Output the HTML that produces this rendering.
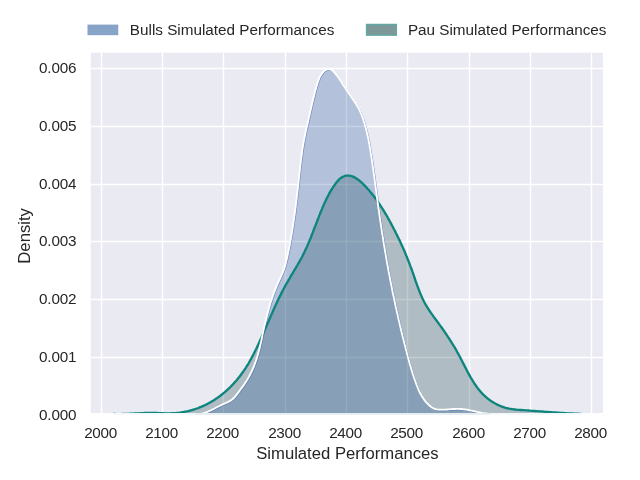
<!DOCTYPE html>
<html><head><meta charset="utf-8"><title>Simulated Performances</title>
<style>
html,body{margin:0;padding:0;background:#fff;}
svg{display:block}
text{font-family:"Liberation Sans",sans-serif;fill:#262626;}
.tick text{font-size:15.28px}
.lab{font-size:16.67px}
.leg{font-size:15.28px}
</style></head><body>
<svg width="640" height="480" viewBox="0 0 640 480">
<rect width="640" height="480" fill="#fff"/>
<rect x="90.8" y="52.8" width="512.2" height="360.2" fill="#eaeaf2"/>
<clipPath id="c"><rect x="90.8" y="52.8" width="512.2" height="360.2"/></clipPath>
<g stroke="#fff" stroke-width="1.39" stroke-linecap="butt"><line x1="101.50" y1="52.8" x2="101.50" y2="413.0"/><line x1="162.50" y1="52.8" x2="162.50" y2="413.0"/><line x1="223.50" y1="52.8" x2="223.50" y2="413.0"/><line x1="285.50" y1="52.8" x2="285.50" y2="413.0"/><line x1="346.50" y1="52.8" x2="346.50" y2="413.0"/><line x1="407.50" y1="52.8" x2="407.50" y2="413.0"/><line x1="469.50" y1="52.8" x2="469.50" y2="413.0"/><line x1="530.50" y1="52.8" x2="530.50" y2="413.0"/><line x1="591.50" y1="52.8" x2="591.50" y2="413.0"/><line x1="90.8" y1="357.50" x2="603.0" y2="357.50"/><line x1="90.8" y1="299.50" x2="603.0" y2="299.50"/><line x1="90.8" y1="241.50" x2="603.0" y2="241.50"/><line x1="90.8" y1="184.50" x2="603.0" y2="184.50"/><line x1="90.8" y1="126.50" x2="603.0" y2="126.50"/><line x1="90.8" y1="68.50" x2="603.0" y2="68.50"/></g>
<g>
<g clip-path="url(#c)">
<path d="M113.4,414.0 L114.9,414.0 L116.4,414.1 L117.9,414.1 L119.4,414.1 L120.9,414.1 L122.4,414.0 L123.9,414.0 L125.4,413.9 L126.9,413.9 L128.4,413.8 L129.9,413.7 L131.4,413.7 L132.9,413.6 L134.4,413.5 L135.9,413.4 L137.4,413.3 L138.9,413.3 L140.4,413.2 L141.9,413.1 L143.4,413.1 L144.9,413.0 L146.4,413.0 L147.9,412.9 L149.4,412.9 L150.9,412.9 L152.4,412.9 L153.9,413.0 L155.4,413.0 L156.9,413.0 L158.4,413.1 L159.9,413.1 L161.4,413.2 L162.9,413.2 L164.4,413.3 L165.9,413.3 L167.4,413.3 L168.9,413.3 L170.4,413.3 L171.9,413.2 L173.4,413.2 L174.9,413.1 L176.4,413.0 L177.9,412.8 L179.4,412.7 L180.9,412.5 L182.4,412.2 L183.8,412.0 L185.3,411.7 L186.8,411.4 L188.2,411.1 L189.7,410.7 L191.1,410.3 L192.6,409.9 L194.0,409.5 L195.4,409.0 L196.9,408.5 L198.3,408.0 L199.7,407.4 L201.1,406.9 L202.4,406.3 L203.8,405.7 L205.2,405.0 L206.5,404.4 L207.8,403.7 L209.1,403.0 L210.4,402.3 L211.7,401.5 L213.0,400.7 L214.3,399.9 L215.5,399.1 L216.8,398.3 L218.0,397.4 L219.2,396.6 L220.4,395.7 L221.6,394.7 L222.8,393.8 L223.9,392.9 L225.1,391.9 L226.2,390.9 L227.3,389.9 L228.4,388.9 L229.5,387.8 L230.6,386.8 L231.6,385.7 L232.7,384.6 L233.7,383.5 L234.7,382.4 L235.7,381.3 L236.7,380.2 L237.6,379.0 L238.6,377.8 L239.5,376.7 L240.4,375.5 L241.3,374.3 L242.2,373.0 L243.1,371.8 L243.9,370.6 L244.8,369.3 L245.6,368.1 L246.4,366.8 L247.2,365.5 L248.0,364.3 L248.8,363.0 L249.5,361.7 L250.2,360.4 L251.0,359.0 L251.7,357.7 L252.4,356.4 L253.1,355.1 L253.8,353.7 L254.5,352.4 L255.1,351.0 L255.8,349.7 L256.5,348.3 L257.1,347.0 L257.8,345.6 L258.4,344.2 L259.0,342.9 L259.6,341.5 L260.3,340.1 L260.9,338.7 L261.5,337.4 L262.1,336.0 L262.7,334.6 L263.3,333.2 L263.9,331.9 L264.5,330.5 L265.1,329.1 L265.7,327.7 L266.3,326.3 L266.9,325.0 L267.5,323.6 L268.1,322.2 L268.7,320.9 L269.3,319.5 L269.9,318.1 L270.5,316.7 L271.1,315.4 L271.7,314.0 L272.3,312.7 L272.9,311.3 L273.5,309.9 L274.1,308.6 L274.7,307.2 L275.3,305.9 L275.9,304.5 L276.6,303.2 L277.2,301.8 L277.8,300.5 L278.5,299.1 L279.1,297.8 L279.8,296.4 L280.5,295.1 L281.1,293.8 L281.8,292.4 L282.5,291.1 L283.2,289.8 L283.9,288.5 L284.6,287.1 L285.3,285.8 L286.0,284.5 L286.8,283.2 L287.5,281.9 L288.3,280.6 L289.0,279.3 L289.8,278.0 L290.5,276.7 L291.3,275.4 L292.1,274.1 L292.9,272.8 L293.6,271.5 L294.4,270.2 L295.2,268.9 L296.0,267.6 L296.7,266.3 L297.5,265.0 L298.2,263.7 L299.0,262.4 L299.7,261.1 L300.4,259.8 L301.2,258.5 L301.9,257.2 L302.6,255.8 L303.2,254.5 L303.9,253.1 L304.6,251.8 L305.2,250.4 L305.8,249.1 L306.5,247.7 L307.1,246.4 L307.7,245.0 L308.3,243.6 L308.8,242.2 L309.4,240.9 L310.0,239.5 L310.6,238.1 L311.1,236.7 L311.7,235.3 L312.2,233.9 L312.8,232.5 L313.3,231.1 L313.8,229.7 L314.4,228.3 L314.9,226.9 L315.5,225.5 L316.0,224.1 L316.5,222.8 L317.1,221.4 L317.6,220.0 L318.1,218.6 L318.7,217.2 L319.2,215.8 L319.8,214.4 L320.3,213.0 L320.9,211.6 L321.5,210.2 L322.1,208.9 L322.6,207.5 L323.2,206.1 L323.8,204.7 L324.4,203.4 L325.0,202.0 L325.7,200.7 L326.3,199.3 L327.0,197.9 L327.7,196.6 L328.4,195.3 L329.1,193.9 L329.8,192.6 L330.6,191.2 L331.4,189.9 L332.2,188.6 L333.1,187.2 L334.0,185.9 L334.9,184.6 L335.8,183.3 L336.8,182.0 L337.8,180.9 L338.9,179.7 L340.0,178.7 L341.1,177.8 L342.3,177.1 L343.5,176.5 L344.8,176.0 L346.1,175.7 L347.5,175.6 L348.8,175.7 L350.2,175.9 L351.6,176.2 L352.9,176.7 L354.2,177.2 L355.5,177.9 L356.7,178.7 L357.9,179.5 L359.1,180.4 L360.3,181.4 L361.4,182.4 L362.5,183.4 L363.6,184.5 L364.7,185.6 L365.8,186.7 L366.8,187.9 L367.8,189.0 L368.9,190.1 L369.8,191.3 L370.8,192.5 L371.8,193.6 L372.7,194.8 L373.7,196.0 L374.6,197.2 L375.5,198.4 L376.4,199.6 L377.2,200.8 L378.1,202.1 L378.9,203.3 L379.8,204.6 L380.6,205.8 L381.4,207.1 L382.2,208.3 L383.0,209.6 L383.8,210.9 L384.6,212.2 L385.3,213.5 L386.1,214.7 L386.9,216.0 L387.6,217.3 L388.3,218.6 L389.1,219.9 L389.8,221.3 L390.5,222.6 L391.2,223.9 L391.9,225.2 L392.6,226.5 L393.3,227.9 L394.0,229.2 L394.7,230.5 L395.4,231.9 L396.0,233.2 L396.7,234.5 L397.4,235.9 L398.0,237.2 L398.7,238.6 L399.3,239.9 L400.0,241.3 L400.6,242.6 L401.2,244.0 L401.9,245.4 L402.5,246.7 L403.1,248.1 L403.7,249.5 L404.3,250.8 L404.9,252.2 L405.5,253.6 L406.0,255.0 L406.6,256.4 L407.2,257.8 L407.7,259.2 L408.3,260.5 L408.8,261.9 L409.4,263.4 L409.9,264.8 L410.4,266.2 L411.0,267.6 L411.5,269.0 L412.0,270.4 L412.5,271.8 L413.0,273.2 L413.5,274.7 L414.0,276.1 L414.4,277.5 L414.9,278.9 L415.4,280.4 L415.9,281.8 L416.4,283.2 L416.9,284.6 L417.4,286.0 L418.0,287.4 L418.5,288.8 L419.0,290.2 L419.6,291.6 L420.1,293.0 L420.7,294.4 L421.3,295.8 L421.9,297.1 L422.5,298.5 L423.2,299.8 L423.8,301.2 L424.5,302.5 L425.2,303.8 L426.0,305.1 L426.7,306.4 L427.5,307.7 L428.3,309.0 L429.1,310.2 L430.0,311.5 L430.8,312.7 L431.7,313.9 L432.6,315.2 L433.4,316.4 L434.3,317.6 L435.2,318.8 L436.1,320.0 L437.0,321.2 L437.9,322.4 L438.8,323.7 L439.7,324.9 L440.6,326.1 L441.4,327.3 L442.3,328.5 L443.1,329.7 L444.0,330.9 L444.8,332.2 L445.7,333.4 L446.5,334.6 L447.3,335.8 L448.1,337.1 L449.0,338.3 L449.8,339.6 L450.6,340.8 L451.4,342.1 L452.1,343.3 L452.9,344.6 L453.7,345.9 L454.5,347.1 L455.2,348.4 L456.0,349.7 L456.7,351.0 L457.4,352.3 L458.2,353.6 L458.9,355.0 L459.6,356.3 L460.3,357.6 L461.0,359.0 L461.7,360.3 L462.4,361.7 L463.1,363.1 L463.8,364.4 L464.5,365.8 L465.2,367.1 L465.9,368.5 L466.6,369.9 L467.3,371.2 L468.0,372.6 L468.7,373.9 L469.4,375.2 L470.2,376.6 L470.9,377.9 L471.7,379.2 L472.5,380.5 L473.3,381.7 L474.1,383.0 L474.9,384.3 L475.8,385.5 L476.6,386.7 L477.5,387.9 L478.4,389.1 L479.4,390.2 L480.3,391.4 L481.3,392.5 L482.3,393.6 L483.3,394.6 L484.4,395.6 L485.5,396.6 L486.6,397.6 L487.8,398.6 L489.0,399.5 L490.2,400.4 L491.4,401.2 L492.7,402.0 L493.9,402.8 L495.2,403.5 L496.6,404.2 L497.9,404.9 L499.3,405.5 L500.6,406.1 L502.0,406.6 L503.4,407.1 L504.9,407.6 L506.3,408.0 L507.7,408.3 L509.2,408.7 L510.6,408.9 L512.1,409.1 L513.6,409.3 L515.1,409.5 L516.5,409.7 L518.0,409.8 L519.5,409.9 L521.0,410.0 L522.5,410.1 L524.1,410.2 L525.6,410.3 L527.1,410.4 L528.6,410.5 L530.1,410.7 L531.6,410.8 L533.2,410.9 L534.7,411.0 L536.2,411.1 L537.7,411.2 L539.2,411.3 L540.7,411.4 L542.2,411.5 L543.7,411.6 L545.2,411.8 L546.7,411.9 L548.2,412.0 L549.7,412.1 L551.2,412.2 L552.6,412.3 L554.1,412.4 L555.6,412.5 L557.1,412.6 L558.6,412.7 L560.0,412.8 L561.5,412.9 L563.0,413.0 L564.5,413.1 L566.0,413.2 L567.5,413.3 L569.0,413.3 L570.5,413.4 L572.0,413.5 L573.5,413.6 L575.0,413.6 L576.5,413.7 L578.0,413.7 L579.5,413.8 L581.0,413.9 L581.6,413.9 L581.6,413.7 L113.4,413.7 Z" fill="#023236" fill-opacity="0.25"/>
<path d="M193.0,414.9 L194.6,415.2 L196.1,415.3 L197.6,415.3 L199.1,415.2 L200.6,415.1 L202.1,414.8 L203.5,414.5 L204.9,414.1 L206.3,413.6 L207.7,413.1 L209.1,412.5 L210.5,411.9 L211.8,411.3 L213.2,410.6 L214.5,410.0 L215.9,409.3 L217.2,408.5 L218.6,407.8 L219.9,407.2 L221.3,406.5 L222.6,405.8 L224.0,405.2 L225.3,404.6 L226.7,404.0 L228.0,403.4 L229.4,402.8 L230.7,402.1 L231.9,401.4 L233.1,400.5 L234.2,399.5 L235.2,398.5 L236.2,397.3 L237.2,396.1 L238.2,394.9 L239.1,393.7 L240.0,392.5 L240.9,391.2 L241.8,390.0 L242.7,388.8 L243.6,387.6 L244.4,386.4 L245.3,385.2 L246.1,383.9 L246.9,382.7 L247.7,381.4 L248.5,380.2 L249.2,378.9 L250.0,377.6 L250.7,376.3 L251.3,375.0 L252.0,373.6 L252.7,372.3 L253.3,370.9 L253.9,369.5 L254.5,368.2 L255.1,366.8 L255.6,365.4 L256.1,364.0 L256.6,362.5 L257.1,361.1 L257.6,359.7 L258.1,358.2 L258.5,356.8 L258.9,355.3 L259.3,353.9 L259.7,352.4 L260.1,351.0 L260.5,349.5 L260.8,348.0 L261.2,346.6 L261.5,345.1 L261.8,343.6 L262.2,342.2 L262.5,340.7 L262.8,339.2 L263.1,337.7 L263.4,336.3 L263.7,334.8 L264.0,333.4 L264.4,331.9 L264.7,330.4 L265.0,329.0 L265.3,327.5 L265.6,326.1 L266.0,324.7 L266.3,323.2 L266.6,321.8 L267.0,320.3 L267.3,318.9 L267.7,317.5 L268.0,316.0 L268.4,314.6 L268.8,313.2 L269.2,311.8 L269.5,310.3 L269.9,308.9 L270.3,307.5 L270.8,306.1 L271.2,304.6 L271.6,303.2 L272.1,301.8 L272.5,300.4 L273.0,299.0 L273.5,297.6 L274.0,296.1 L274.5,294.7 L275.0,293.3 L275.6,291.9 L276.1,290.5 L276.7,289.1 L277.3,287.7 L277.9,286.2 L278.5,284.8 L279.1,283.4 L279.8,282.0 L280.4,280.6 L281.1,279.2 L281.7,277.7 L282.3,276.3 L283.0,274.9 L283.6,273.5 L284.1,272.1 L284.7,270.6 L285.2,269.2 L285.6,267.8 L286.1,266.4 L286.5,264.9 L286.8,263.5 L287.2,262.1 L287.5,260.6 L287.9,259.2 L288.2,257.8 L288.5,256.3 L288.8,254.9 L289.1,253.4 L289.4,252.0 L289.7,250.5 L290.0,249.1 L290.3,247.6 L290.6,246.2 L290.8,244.7 L291.1,243.2 L291.4,241.8 L291.6,240.3 L291.9,238.9 L292.2,237.4 L292.4,235.9 L292.7,234.4 L292.9,233.0 L293.1,231.5 L293.4,230.0 L293.6,228.6 L293.8,227.1 L294.1,225.6 L294.3,224.1 L294.5,222.6 L294.7,221.2 L294.9,219.7 L295.2,218.2 L295.4,216.7 L295.6,215.2 L295.8,213.7 L296.0,212.2 L296.2,210.7 L296.4,209.3 L296.6,207.8 L296.7,206.3 L296.9,204.8 L297.1,203.3 L297.3,201.8 L297.5,200.3 L297.7,198.8 L297.8,197.3 L298.0,195.8 L298.2,194.3 L298.4,192.8 L298.5,191.3 L298.7,189.8 L298.9,188.3 L299.1,186.8 L299.2,185.3 L299.4,183.8 L299.5,182.4 L299.7,180.9 L299.9,179.4 L300.0,177.9 L300.2,176.4 L300.4,174.9 L300.5,173.4 L300.7,171.9 L300.9,170.4 L301.0,168.9 L301.2,167.4 L301.4,165.9 L301.5,164.4 L301.7,162.9 L301.9,161.4 L302.1,159.9 L302.3,158.5 L302.5,157.0 L302.7,155.5 L302.9,154.0 L303.1,152.5 L303.3,151.0 L303.5,149.5 L303.7,148.1 L304.0,146.6 L304.2,145.1 L304.5,143.6 L304.7,142.1 L305.0,140.7 L305.3,139.2 L305.6,137.7 L305.9,136.2 L306.2,134.8 L306.5,133.3 L306.8,131.8 L307.1,130.4 L307.5,128.9 L307.8,127.5 L308.1,126.0 L308.5,124.5 L308.8,123.1 L309.1,121.6 L309.5,120.2 L309.8,118.7 L310.1,117.3 L310.5,115.8 L310.8,114.4 L311.1,112.9 L311.4,111.5 L311.8,110.0 L312.1,108.6 L312.4,107.2 L312.8,105.7 L313.1,104.3 L313.4,102.8 L313.8,101.4 L314.1,99.9 L314.5,98.5 L314.9,97.0 L315.2,95.5 L315.6,94.1 L316.0,92.6 L316.4,91.1 L316.8,89.7 L317.2,88.2 L317.6,86.7 L318.1,85.2 L318.5,83.7 L319.0,82.2 L319.6,80.8 L320.1,79.4 L320.7,78.0 L321.4,76.6 L322.2,75.4 L323.0,74.2 L324.0,73.1 L325.0,72.0 L326.1,71.1 L327.3,70.4 L328.6,70.0 L329.9,70.0 L331.2,70.3 L332.5,70.9 L333.7,71.7 L334.9,72.8 L336.0,74.1 L337.0,75.4 L338.0,76.7 L339.0,78.0 L339.9,79.3 L340.7,80.6 L341.6,81.8 L342.4,83.0 L343.2,84.3 L343.9,85.5 L344.7,86.7 L345.5,87.8 L346.2,89.0 L347.0,90.2 L347.8,91.4 L348.7,92.6 L349.5,93.9 L350.4,95.1 L351.2,96.4 L352.1,97.6 L353.0,98.9 L353.9,100.2 L354.7,101.4 L355.6,102.7 L356.4,104.0 L357.3,105.4 L358.1,106.7 L358.8,108.0 L359.6,109.3 L360.3,110.7 L360.9,112.0 L361.5,113.4 L362.1,114.8 L362.7,116.1 L363.2,117.5 L363.7,118.9 L364.2,120.3 L364.6,121.7 L365.1,123.1 L365.5,124.5 L365.9,126.0 L366.3,127.4 L366.7,128.8 L367.1,130.2 L367.4,131.7 L367.8,133.1 L368.1,134.6 L368.4,136.0 L368.8,137.5 L369.1,138.9 L369.4,140.4 L369.7,141.9 L369.9,143.3 L370.2,144.8 L370.5,146.3 L370.7,147.8 L371.0,149.3 L371.3,150.7 L371.5,152.2 L371.7,153.7 L372.0,155.2 L372.2,156.7 L372.4,158.2 L372.7,159.7 L372.9,161.2 L373.1,162.6 L373.3,164.1 L373.5,165.6 L373.7,167.1 L374.0,168.6 L374.2,170.1 L374.4,171.6 L374.6,173.1 L374.8,174.6 L375.0,176.1 L375.2,177.6 L375.4,179.1 L375.6,180.5 L375.8,182.0 L376.0,183.5 L376.2,185.0 L376.4,186.5 L376.6,188.0 L376.8,189.5 L377.0,191.0 L377.2,192.5 L377.4,193.9 L377.6,195.4 L377.8,196.9 L378.0,198.4 L378.2,199.9 L378.4,201.4 L378.6,202.9 L378.8,204.4 L379.0,205.8 L379.2,207.3 L379.4,208.8 L379.6,210.3 L379.9,211.8 L380.1,213.3 L380.3,214.8 L380.5,216.2 L380.7,217.7 L380.9,219.2 L381.1,220.7 L381.3,222.2 L381.6,223.7 L381.8,225.1 L382.0,226.6 L382.2,228.1 L382.5,229.6 L382.7,231.1 L382.9,232.6 L383.1,234.0 L383.4,235.5 L383.6,237.0 L383.8,238.5 L384.1,240.0 L384.3,241.4 L384.5,242.9 L384.8,244.4 L385.0,245.9 L385.3,247.4 L385.5,248.8 L385.8,250.3 L386.0,251.8 L386.3,253.3 L386.5,254.7 L386.8,256.2 L387.0,257.7 L387.3,259.2 L387.5,260.6 L387.8,262.1 L388.0,263.6 L388.3,265.1 L388.6,266.5 L388.8,268.0 L389.1,269.5 L389.4,271.0 L389.6,272.4 L389.9,273.9 L390.2,275.4 L390.5,276.9 L390.8,278.3 L391.0,279.8 L391.3,281.3 L391.6,282.7 L391.9,284.2 L392.2,285.7 L392.5,287.1 L392.8,288.6 L393.1,290.1 L393.3,291.5 L393.6,293.0 L393.9,294.5 L394.2,295.9 L394.6,297.4 L394.9,298.9 L395.2,300.3 L395.5,301.8 L395.8,303.3 L396.1,304.7 L396.4,306.2 L396.7,307.7 L397.1,309.1 L397.4,310.6 L397.7,312.0 L398.0,313.5 L398.4,315.0 L398.7,316.4 L399.0,317.9 L399.3,319.4 L399.7,320.8 L400.0,322.3 L400.4,323.7 L400.7,325.2 L401.0,326.7 L401.4,328.1 L401.7,329.6 L402.1,331.0 L402.4,332.5 L402.8,334.0 L403.2,335.4 L403.5,336.9 L403.9,338.4 L404.2,339.8 L404.6,341.3 L405.0,342.7 L405.3,344.2 L405.7,345.7 L406.1,347.1 L406.5,348.6 L406.8,350.0 L407.2,351.5 L407.6,353.0 L408.0,354.4 L408.4,355.9 L408.7,357.4 L409.1,358.8 L409.5,360.3 L409.9,361.7 L410.3,363.2 L410.7,364.7 L411.1,366.1 L411.6,367.6 L412.0,369.0 L412.4,370.5 L412.8,371.9 L413.3,373.3 L413.7,374.8 L414.2,376.2 L414.7,377.6 L415.1,379.0 L415.6,380.4 L416.1,381.8 L416.6,383.2 L417.1,384.6 L417.6,386.0 L418.1,387.3 L418.7,388.7 L419.2,390.0 L419.8,391.4 L420.4,392.7 L421.1,394.0 L421.8,395.3 L422.5,396.6 L423.2,397.9 L424.1,399.1 L424.9,400.4 L425.8,401.6 L426.8,402.9 L427.9,404.1 L429.0,405.2 L430.1,406.3 L431.3,407.3 L432.5,408.2 L433.8,409.0 L435.2,409.6 L436.5,410.1 L437.9,410.4 L439.3,410.6 L440.8,410.7 L442.2,410.7 L443.7,410.7 L445.2,410.7 L446.7,410.6 L448.3,410.5 L449.8,410.4 L451.3,410.2 L452.9,410.1 L454.4,410.0 L455.9,410.0 L457.5,409.9 L459.0,409.9 L460.5,409.9 L462.0,410.0 L463.5,410.1 L465.0,410.3 L466.5,410.5 L467.9,410.7 L469.4,411.0 L470.9,411.3 L472.3,411.6 L473.8,411.9 L475.2,412.2 L476.7,412.5 L478.1,412.9 L479.6,413.2 L481.0,413.5 L482.5,413.8 L484.0,414.1 L485.4,414.3 L486.9,414.5 L488.4,414.7 L489.9,414.9 L491.0,415.0 L491.0,414.7 L193.0,414.7 Z" fill="#104c92" fill-opacity="0.25"/>
<path d="M113.4,414.0 L114.9,414.0 L116.4,414.1 L117.9,414.1 L119.4,414.1 L120.9,414.1 L122.4,414.0 L123.9,414.0 L125.4,413.9 L126.9,413.9 L128.4,413.8 L129.9,413.7 L131.4,413.7 L132.9,413.6 L134.4,413.5 L135.9,413.4 L137.4,413.3 L138.9,413.3 L140.4,413.2 L141.9,413.1 L143.4,413.1 L144.9,413.0 L146.4,413.0 L147.9,412.9 L149.4,412.9 L150.9,412.9 L152.4,412.9 L153.9,413.0 L155.4,413.0 L156.9,413.0 L158.4,413.1 L159.9,413.1 L161.4,413.2 L162.9,413.2 L164.4,413.3 L165.9,413.3 L167.4,413.3 L168.9,413.3 L170.4,413.3 L171.9,413.2 L173.4,413.2 L174.9,413.1 L176.4,413.0 L177.9,412.8 L179.4,412.7 L180.9,412.5 L182.4,412.2 L183.8,412.0 L185.3,411.7 L186.8,411.4 L188.2,411.1 L189.7,410.7 L191.1,410.3 L192.6,409.9 L194.0,409.5 L195.4,409.0 L196.9,408.5 L198.3,408.0 L199.7,407.4 L201.1,406.9 L202.4,406.3 L203.8,405.7 L205.2,405.0 L206.5,404.4 L207.8,403.7 L209.1,403.0 L210.4,402.3 L211.7,401.5 L213.0,400.7 L214.3,399.9 L215.5,399.1 L216.8,398.3 L218.0,397.4 L219.2,396.6 L220.4,395.7 L221.6,394.7 L222.8,393.8 L223.9,392.9 L225.1,391.9 L226.2,390.9 L227.3,389.9 L228.4,388.9 L229.5,387.8 L230.6,386.8 L231.6,385.7 L232.7,384.6 L233.7,383.5 L234.7,382.4 L235.7,381.3 L236.7,380.2 L237.6,379.0 L238.6,377.8 L239.5,376.7 L240.4,375.5 L241.3,374.3 L242.2,373.0 L243.1,371.8 L243.9,370.6 L244.8,369.3 L245.6,368.1 L246.4,366.8 L247.2,365.5 L248.0,364.3 L248.8,363.0 L249.5,361.7 L250.2,360.4 L251.0,359.0 L251.7,357.7 L252.4,356.4 L253.1,355.1 L253.8,353.7 L254.5,352.4 L255.1,351.0 L255.8,349.7 L256.5,348.3 L257.1,347.0 L257.8,345.6 L258.4,344.2 L259.0,342.9 L259.6,341.5 L260.3,340.1 L260.9,338.7 L261.5,337.4 L262.1,336.0 L262.7,334.6 L263.3,333.2 L263.9,331.9 L264.5,330.5 L265.1,329.1 L265.7,327.7 L266.3,326.3 L266.9,325.0 L267.5,323.6 L268.1,322.2 L268.7,320.9 L269.3,319.5 L269.9,318.1 L270.5,316.7 L271.1,315.4 L271.7,314.0 L272.3,312.7 L272.9,311.3 L273.5,309.9 L274.1,308.6 L274.7,307.2 L275.3,305.9 L275.9,304.5 L276.6,303.2 L277.2,301.8 L277.8,300.5 L278.5,299.1 L279.1,297.8 L279.8,296.4 L280.5,295.1 L281.1,293.8 L281.8,292.4 L282.5,291.1 L283.2,289.8 L283.9,288.5 L284.6,287.1 L285.3,285.8 L286.0,284.5 L286.8,283.2 L287.5,281.9 L288.3,280.6 L289.0,279.3 L289.8,278.0 L290.5,276.7 L291.3,275.4 L292.1,274.1 L292.9,272.8 L293.6,271.5 L294.4,270.2 L295.2,268.9 L296.0,267.6 L296.7,266.3 L297.5,265.0 L298.2,263.7 L299.0,262.4 L299.7,261.1 L300.4,259.8 L301.2,258.5 L301.9,257.2 L302.6,255.8 L303.2,254.5 L303.9,253.1 L304.6,251.8 L305.2,250.4 L305.8,249.1 L306.5,247.7 L307.1,246.4 L307.7,245.0 L308.3,243.6 L308.8,242.2 L309.4,240.9 L310.0,239.5 L310.6,238.1 L311.1,236.7 L311.7,235.3 L312.2,233.9 L312.8,232.5 L313.3,231.1 L313.8,229.7 L314.4,228.3 L314.9,226.9 L315.5,225.5 L316.0,224.1 L316.5,222.8 L317.1,221.4 L317.6,220.0 L318.1,218.6 L318.7,217.2 L319.2,215.8 L319.8,214.4 L320.3,213.0 L320.9,211.6 L321.5,210.2 L322.1,208.9 L322.6,207.5 L323.2,206.1 L323.8,204.7 L324.4,203.4 L325.0,202.0 L325.7,200.7 L326.3,199.3 L327.0,197.9 L327.7,196.6 L328.4,195.3 L329.1,193.9 L329.8,192.6 L330.6,191.2 L331.4,189.9 L332.2,188.6 L333.1,187.2 L334.0,185.9 L334.9,184.6 L335.8,183.3 L336.8,182.0 L337.8,180.9 L338.9,179.7 L340.0,178.7 L341.1,177.8 L342.3,177.1 L343.5,176.5 L344.8,176.0 L346.1,175.7 L347.5,175.6 L348.8,175.7 L350.2,175.9 L351.6,176.2 L352.9,176.7 L354.2,177.2 L355.5,177.9 L356.7,178.7 L357.9,179.5 L359.1,180.4 L360.3,181.4 L361.4,182.4 L362.5,183.4 L363.6,184.5 L364.7,185.6 L365.8,186.7 L366.8,187.9 L367.8,189.0 L368.9,190.1 L369.8,191.3 L370.8,192.5 L371.8,193.6 L372.7,194.8 L373.7,196.0 L374.6,197.2 L375.5,198.4 L376.4,199.6 L377.2,200.8 L378.1,202.1 L378.9,203.3 L379.8,204.6 L380.6,205.8 L381.4,207.1 L382.2,208.3 L383.0,209.6 L383.8,210.9 L384.6,212.2 L385.3,213.5 L386.1,214.7 L386.9,216.0 L387.6,217.3 L388.3,218.6 L389.1,219.9 L389.8,221.3 L390.5,222.6 L391.2,223.9 L391.9,225.2 L392.6,226.5 L393.3,227.9 L394.0,229.2 L394.7,230.5 L395.4,231.9 L396.0,233.2 L396.7,234.5 L397.4,235.9 L398.0,237.2 L398.7,238.6 L399.3,239.9 L400.0,241.3 L400.6,242.6 L401.2,244.0 L401.9,245.4 L402.5,246.7 L403.1,248.1 L403.7,249.5 L404.3,250.8 L404.9,252.2 L405.5,253.6 L406.0,255.0 L406.6,256.4 L407.2,257.8 L407.7,259.2 L408.3,260.5 L408.8,261.9 L409.4,263.4 L409.9,264.8 L410.4,266.2 L411.0,267.6 L411.5,269.0 L412.0,270.4 L412.5,271.8 L413.0,273.2 L413.5,274.7 L414.0,276.1 L414.4,277.5 L414.9,278.9 L415.4,280.4 L415.9,281.8 L416.4,283.2 L416.9,284.6 L417.4,286.0 L418.0,287.4 L418.5,288.8 L419.0,290.2 L419.6,291.6 L420.1,293.0 L420.7,294.4 L421.3,295.8 L421.9,297.1 L422.5,298.5 L423.2,299.8 L423.8,301.2 L424.5,302.5 L425.2,303.8 L426.0,305.1 L426.7,306.4 L427.5,307.7 L428.3,309.0 L429.1,310.2 L430.0,311.5 L430.8,312.7 L431.7,313.9 L432.6,315.2 L433.4,316.4 L434.3,317.6 L435.2,318.8 L436.1,320.0 L437.0,321.2 L437.9,322.4 L438.8,323.7 L439.7,324.9 L440.6,326.1 L441.4,327.3 L442.3,328.5 L443.1,329.7 L444.0,330.9 L444.8,332.2 L445.7,333.4 L446.5,334.6 L447.3,335.8 L448.1,337.1 L449.0,338.3 L449.8,339.6 L450.6,340.8 L451.4,342.1 L452.1,343.3 L452.9,344.6 L453.7,345.9 L454.5,347.1 L455.2,348.4 L456.0,349.7 L456.7,351.0 L457.4,352.3 L458.2,353.6 L458.9,355.0 L459.6,356.3 L460.3,357.6 L461.0,359.0 L461.7,360.3 L462.4,361.7 L463.1,363.1 L463.8,364.4 L464.5,365.8 L465.2,367.1 L465.9,368.5 L466.6,369.9 L467.3,371.2 L468.0,372.6 L468.7,373.9 L469.4,375.2 L470.2,376.6 L470.9,377.9 L471.7,379.2 L472.5,380.5 L473.3,381.7 L474.1,383.0 L474.9,384.3 L475.8,385.5 L476.6,386.7 L477.5,387.9 L478.4,389.1 L479.4,390.2 L480.3,391.4 L481.3,392.5 L482.3,393.6 L483.3,394.6 L484.4,395.6 L485.5,396.6 L486.6,397.6 L487.8,398.6 L489.0,399.5 L490.2,400.4 L491.4,401.2 L492.7,402.0 L493.9,402.8 L495.2,403.5 L496.6,404.2 L497.9,404.9 L499.3,405.5 L500.6,406.1 L502.0,406.6 L503.4,407.1 L504.9,407.6 L506.3,408.0 L507.7,408.3 L509.2,408.7 L510.6,408.9 L512.1,409.1 L513.6,409.3 L515.1,409.5 L516.5,409.7 L518.0,409.8 L519.5,409.9 L521.0,410.0 L522.5,410.1 L524.1,410.2 L525.6,410.3 L527.1,410.4 L528.6,410.5 L530.1,410.7 L531.6,410.8 L533.2,410.9 L534.7,411.0 L536.2,411.1 L537.7,411.2 L539.2,411.3 L540.7,411.4 L542.2,411.5 L543.7,411.6 L545.2,411.8 L546.7,411.9 L548.2,412.0 L549.7,412.1 L551.2,412.2 L552.6,412.3 L554.1,412.4 L555.6,412.5 L557.1,412.6 L558.6,412.7 L560.0,412.8 L561.5,412.9 L563.0,413.0 L564.5,413.1 L566.0,413.2 L567.5,413.3 L569.0,413.3 L570.5,413.4 L572.0,413.5 L573.5,413.6 L575.0,413.6 L576.5,413.7 L578.0,413.7 L579.5,413.8 L581.0,413.9 L581.6,413.9" fill="none" stroke="#0d857d" stroke-width="2.35" stroke-linejoin="round" stroke-linecap="round"/>
<path d="M193.0,414.9 L194.6,415.2 L196.1,415.3 L197.6,415.3 L199.1,415.2 L200.6,415.1 L202.1,414.8 L203.5,414.5 L204.9,414.1 L206.3,413.6 L207.7,413.1 L209.1,412.5 L210.5,411.9 L211.8,411.3 L213.2,410.6 L214.5,410.0 L215.9,409.3 L217.2,408.5 L218.6,407.8 L219.9,407.2 L221.3,406.5 L222.6,405.8 L224.0,405.2 L225.3,404.6 L226.7,404.0 L228.0,403.4 L229.4,402.8 L230.7,402.1 L231.9,401.4 L233.1,400.5 L234.2,399.5 L235.2,398.5 L236.2,397.3 L237.2,396.1 L238.2,394.9 L239.1,393.7 L240.0,392.5 L240.9,391.2 L241.8,390.0 L242.7,388.8 L243.6,387.6 L244.4,386.4 L245.3,385.2 L246.1,383.9 L246.9,382.7 L247.7,381.4 L248.5,380.2 L249.2,378.9 L250.0,377.6 L250.7,376.3 L251.3,375.0 L252.0,373.6 L252.7,372.3 L253.3,370.9 L253.9,369.5 L254.5,368.2 L255.1,366.8 L255.6,365.4 L256.1,364.0 L256.6,362.5 L257.1,361.1 L257.6,359.7 L258.1,358.2 L258.5,356.8 L258.9,355.3 L259.3,353.9 L259.7,352.4 L260.1,351.0 L260.5,349.5 L260.8,348.0 L261.2,346.6 L261.5,345.1 L261.8,343.6 L262.2,342.2 L262.5,340.7 L262.8,339.2 L263.1,337.7 L263.4,336.3 L263.7,334.8 L264.0,333.4 L264.4,331.9 L264.7,330.4 L265.0,329.0 L265.3,327.5 L265.6,326.1 L266.0,324.7 L266.3,323.2 L266.6,321.8 L267.0,320.3 L267.3,318.9 L267.7,317.5 L268.0,316.0 L268.4,314.6 L268.8,313.2 L269.2,311.8 L269.5,310.3 L269.9,308.9 L270.3,307.5 L270.8,306.1 L271.2,304.6 L271.6,303.2 L272.1,301.8 L272.5,300.4 L273.0,299.0 L273.5,297.6 L274.0,296.1 L274.5,294.7 L275.0,293.3 L275.6,291.9 L276.1,290.5 L276.7,289.1 L277.3,287.7 L277.9,286.2 L278.5,284.8 L279.1,283.4 L279.8,282.0 L280.4,280.6 L281.1,279.2 L281.7,277.7 L282.3,276.3 L283.0,274.9 L283.6,273.5 L284.1,272.1 L284.7,270.6 L285.2,269.2 L285.6,267.8 L286.1,266.4 L286.5,264.9 L286.8,263.5 L287.2,262.1 L287.5,260.6 L287.9,259.2 L288.2,257.8 L288.5,256.3 L288.8,254.9 L289.1,253.4 L289.4,252.0 L289.7,250.5 L290.0,249.1 L290.3,247.6 L290.6,246.2 L290.8,244.7 L291.1,243.2 L291.4,241.8 L291.6,240.3 L291.9,238.9 L292.2,237.4 L292.4,235.9 L292.7,234.4 L292.9,233.0 L293.1,231.5 L293.4,230.0 L293.6,228.6 L293.8,227.1 L294.1,225.6 L294.3,224.1 L294.5,222.6 L294.7,221.2 L294.9,219.7 L295.2,218.2 L295.4,216.7 L295.6,215.2 L295.8,213.7 L296.0,212.2 L296.2,210.7 L296.4,209.3 L296.6,207.8 L296.7,206.3 L296.9,204.8 L297.1,203.3 L297.3,201.8 L297.5,200.3 L297.7,198.8 L297.8,197.3 L298.0,195.8 L298.2,194.3 L298.4,192.8 L298.5,191.3 L298.7,189.8 L298.9,188.3 L299.1,186.8 L299.2,185.3 L299.4,183.8 L299.5,182.4 L299.7,180.9 L299.9,179.4 L300.0,177.9 L300.2,176.4 L300.4,174.9 L300.5,173.4 L300.7,171.9 L300.9,170.4 L301.0,168.9 L301.2,167.4 L301.4,165.9 L301.5,164.4 L301.7,162.9 L301.9,161.4 L302.1,159.9 L302.3,158.5 L302.5,157.0 L302.7,155.5 L302.9,154.0 L303.1,152.5 L303.3,151.0 L303.5,149.5 L303.7,148.1 L304.0,146.6 L304.2,145.1 L304.5,143.6 L304.7,142.1 L305.0,140.7 L305.3,139.2 L305.6,137.7 L305.9,136.2 L306.2,134.8 L306.5,133.3 L306.8,131.8 L307.1,130.4 L307.5,128.9 L307.8,127.5 L308.1,126.0 L308.5,124.5 L308.8,123.1 L309.1,121.6 L309.5,120.2 L309.8,118.7 L310.1,117.3 L310.5,115.8 L310.8,114.4 L311.1,112.9 L311.4,111.5 L311.8,110.0 L312.1,108.6 L312.4,107.2 L312.8,105.7 L313.1,104.3 L313.4,102.8 L313.8,101.4 L314.1,99.9 L314.5,98.5 L314.9,97.0 L315.2,95.5 L315.6,94.1 L316.0,92.6 L316.4,91.1 L316.8,89.7 L317.2,88.2 L317.6,86.7 L318.1,85.2 L318.5,83.7 L319.0,82.2 L319.6,80.8 L320.1,79.4 L320.7,78.0 L321.4,76.6 L322.2,75.4 L323.0,74.2 L324.0,73.1 L325.0,72.0 L326.1,71.1 L327.3,70.4 L328.6,70.0 L329.9,70.0 L331.2,70.3 L332.5,70.9 L333.7,71.7 L334.9,72.8 L336.0,74.1 L337.0,75.4 L338.0,76.7 L339.0,78.0 L339.9,79.3 L340.7,80.6 L341.6,81.8 L342.4,83.0 L343.2,84.3 L343.9,85.5 L344.7,86.7 L345.5,87.8 L346.2,89.0 L347.0,90.2 L347.8,91.4 L348.7,92.6 L349.5,93.9 L350.4,95.1 L351.2,96.4 L352.1,97.6 L353.0,98.9 L353.9,100.2 L354.7,101.4 L355.6,102.7 L356.4,104.0 L357.3,105.4 L358.1,106.7 L358.8,108.0 L359.6,109.3 L360.3,110.7 L360.9,112.0 L361.5,113.4 L362.1,114.8 L362.7,116.1 L363.2,117.5 L363.7,118.9 L364.2,120.3 L364.6,121.7 L365.1,123.1 L365.5,124.5 L365.9,126.0 L366.3,127.4 L366.7,128.8 L367.1,130.2 L367.4,131.7 L367.8,133.1 L368.1,134.6 L368.4,136.0 L368.8,137.5 L369.1,138.9 L369.4,140.4 L369.7,141.9 L369.9,143.3 L370.2,144.8 L370.5,146.3 L370.7,147.8 L371.0,149.3 L371.3,150.7 L371.5,152.2 L371.7,153.7 L372.0,155.2 L372.2,156.7 L372.4,158.2 L372.7,159.7 L372.9,161.2 L373.1,162.6 L373.3,164.1 L373.5,165.6 L373.7,167.1 L374.0,168.6 L374.2,170.1 L374.4,171.6 L374.6,173.1 L374.8,174.6 L375.0,176.1 L375.2,177.6 L375.4,179.1 L375.6,180.5 L375.8,182.0 L376.0,183.5 L376.2,185.0 L376.4,186.5 L376.6,188.0 L376.8,189.5 L377.0,191.0 L377.2,192.5 L377.4,193.9 L377.6,195.4 L377.8,196.9 L378.0,198.4 L378.2,199.9 L378.4,201.4 L378.6,202.9 L378.8,204.4 L379.0,205.8 L379.2,207.3 L379.4,208.8 L379.6,210.3 L379.9,211.8 L380.1,213.3 L380.3,214.8 L380.5,216.2 L380.7,217.7 L380.9,219.2 L381.1,220.7 L381.3,222.2 L381.6,223.7 L381.8,225.1 L382.0,226.6 L382.2,228.1 L382.5,229.6 L382.7,231.1 L382.9,232.6 L383.1,234.0 L383.4,235.5 L383.6,237.0 L383.8,238.5 L384.1,240.0 L384.3,241.4 L384.5,242.9 L384.8,244.4 L385.0,245.9 L385.3,247.4 L385.5,248.8 L385.8,250.3 L386.0,251.8 L386.3,253.3 L386.5,254.7 L386.8,256.2 L387.0,257.7 L387.3,259.2 L387.5,260.6 L387.8,262.1 L388.0,263.6 L388.3,265.1 L388.6,266.5 L388.8,268.0 L389.1,269.5 L389.4,271.0 L389.6,272.4 L389.9,273.9 L390.2,275.4 L390.5,276.9 L390.8,278.3 L391.0,279.8 L391.3,281.3 L391.6,282.7 L391.9,284.2 L392.2,285.7 L392.5,287.1 L392.8,288.6 L393.1,290.1 L393.3,291.5 L393.6,293.0 L393.9,294.5 L394.2,295.9 L394.6,297.4 L394.9,298.9 L395.2,300.3 L395.5,301.8 L395.8,303.3 L396.1,304.7 L396.4,306.2 L396.7,307.7 L397.1,309.1 L397.4,310.6 L397.7,312.0 L398.0,313.5 L398.4,315.0 L398.7,316.4 L399.0,317.9 L399.3,319.4 L399.7,320.8 L400.0,322.3 L400.4,323.7 L400.7,325.2 L401.0,326.7 L401.4,328.1 L401.7,329.6 L402.1,331.0 L402.4,332.5 L402.8,334.0 L403.2,335.4 L403.5,336.9 L403.9,338.4 L404.2,339.8 L404.6,341.3 L405.0,342.7 L405.3,344.2 L405.7,345.7 L406.1,347.1 L406.5,348.6 L406.8,350.0 L407.2,351.5 L407.6,353.0 L408.0,354.4 L408.4,355.9 L408.7,357.4 L409.1,358.8 L409.5,360.3 L409.9,361.7 L410.3,363.2 L410.7,364.7 L411.1,366.1 L411.6,367.6 L412.0,369.0 L412.4,370.5 L412.8,371.9 L413.3,373.3 L413.7,374.8 L414.2,376.2 L414.7,377.6 L415.1,379.0 L415.6,380.4 L416.1,381.8 L416.6,383.2 L417.1,384.6 L417.6,386.0 L418.1,387.3 L418.7,388.7 L419.2,390.0 L419.8,391.4 L420.4,392.7 L421.1,394.0 L421.8,395.3 L422.5,396.6 L423.2,397.9 L424.1,399.1 L424.9,400.4 L425.8,401.6 L426.8,402.9 L427.9,404.1 L429.0,405.2 L430.1,406.3 L431.3,407.3 L432.5,408.2 L433.8,409.0 L435.2,409.6 L436.5,410.1 L437.9,410.4 L439.3,410.6 L440.8,410.7 L442.2,410.7 L443.7,410.7 L445.2,410.7 L446.7,410.6 L448.3,410.5 L449.8,410.4 L451.3,410.2 L452.9,410.1 L454.4,410.0 L455.9,410.0 L457.5,409.9 L459.0,409.9 L460.5,409.9 L462.0,410.0 L463.5,410.1 L465.0,410.3 L466.5,410.5 L467.9,410.7 L469.4,411.0 L470.9,411.3 L472.3,411.6 L473.8,411.9 L475.2,412.2 L476.7,412.5 L478.1,412.9 L479.6,413.2 L481.0,413.5 L482.5,413.8 L484.0,414.1 L485.4,414.3 L486.9,414.5 L488.4,414.7 L489.9,414.9 L491.0,415.0" fill="none" stroke="#3560a8" stroke-opacity="0.85" stroke-width="0.7" stroke-linejoin="round"/>
<path d="M192.0,413.9 L193.6,414.2 L195.1,414.3 L196.6,414.3 L198.1,414.2 L199.6,414.1 L201.1,413.8 L202.5,413.5 L203.9,413.1 L205.3,412.6 L206.7,412.1 L208.1,411.5 L209.5,410.9 L210.8,410.3 L212.2,409.6 L213.5,409.0 L214.9,408.3 L216.2,407.5 L217.6,406.8 L218.9,406.2 L220.3,405.5 L221.6,404.8 L223.0,404.2 L224.3,403.6 L225.7,403.0 L227.0,402.4 L228.4,401.8 L229.7,401.1 L230.9,400.4 L232.1,399.5 L233.2,398.5 L234.2,397.5 L235.2,396.3 L236.2,395.1 L237.2,393.9 L238.1,392.7 L239.0,391.5 L239.9,390.2 L240.8,389.0 L241.7,387.8 L242.6,386.6 L243.4,385.4 L244.3,384.2 L245.1,382.9 L245.9,381.7 L246.7,380.4 L247.5,379.2 L248.2,377.9 L249.0,376.6 L249.7,375.3 L250.3,374.0 L251.0,372.6 L251.7,371.3 L252.3,369.9 L252.9,368.5 L253.5,367.2 L254.1,365.8 L254.6,364.4 L255.1,363.0 L255.6,361.5 L256.1,360.1 L256.6,358.7 L257.1,357.2 L257.5,355.8 L257.9,354.3 L258.3,352.9 L258.7,351.4 L259.1,350.0 L259.5,348.5 L259.8,347.0 L260.2,345.6 L260.5,344.1 L260.8,342.6 L261.2,341.2 L261.5,339.7 L261.8,338.2 L262.1,336.7 L262.4,335.3 L262.7,333.8 L263.0,332.4 L263.4,330.9 L263.7,329.4 L264.0,328.0 L264.3,326.5 L264.6,325.1 L265.0,323.7 L265.3,322.2 L265.6,320.8 L266.0,319.3 L266.3,317.9 L266.7,316.5 L267.0,315.0 L267.4,313.6 L267.8,312.2 L268.2,310.8 L268.5,309.3 L268.9,307.9 L269.3,306.5 L269.8,305.1 L270.2,303.6 L270.6,302.2 L271.1,300.8 L271.5,299.4 L272.0,298.0 L272.5,296.6 L273.0,295.1 L273.5,293.7 L274.0,292.3 L274.6,290.9 L275.1,289.5 L275.7,288.1 L276.3,286.7 L276.9,285.2 L277.5,283.8 L278.1,282.4 L278.8,281.0 L279.4,279.6 L280.1,278.2 L280.7,276.7 L281.3,275.3 L282.0,273.9 L282.6,272.5 L283.1,271.1 L283.7,269.6 L284.2,268.2 L284.6,266.8 L285.1,265.4 L285.5,263.9 L285.8,262.5 L286.2,261.1 L286.5,259.6 L286.9,258.2 L287.2,256.8 L287.5,255.3 L287.8,253.9 L288.1,252.4 L288.4,251.0 L288.7,249.5 L289.0,248.1 L289.3,246.6 L289.6,245.2 L289.8,243.7 L290.1,242.2 L290.4,240.8 L290.6,239.3 L290.9,237.9 L291.2,236.4 L291.4,234.9 L291.7,233.4 L291.9,232.0 L292.1,230.5 L292.4,229.0 L292.6,227.6 L292.8,226.1 L293.1,224.6 L293.3,223.1 L293.5,221.6 L293.7,220.2 L293.9,218.7 L294.2,217.2 L294.4,215.7 L294.6,214.2 L294.8,212.7 L295.0,211.2 L295.2,209.7 L295.4,208.3 L295.6,206.8 L295.7,205.3 L295.9,203.8 L296.1,202.3 L296.3,200.8 L296.5,199.3 L296.7,197.8 L296.8,196.3 L297.0,194.8 L297.2,193.3 L297.4,191.8 L297.5,190.3 L297.7,188.8 L297.9,187.3 L298.1,185.8 L298.2,184.3 L298.4,182.8 L298.5,181.4 L298.7,179.9 L298.9,178.4 L299.0,176.9 L299.2,175.4 L299.4,173.9 L299.5,172.4 L299.7,170.9 L299.9,169.4 L300.0,167.9 L300.2,166.4 L300.4,164.9 L300.5,163.4 L300.7,161.9 L300.9,160.4 L301.1,158.9 L301.3,157.5 L301.5,156.0 L301.7,154.5 L301.9,153.0 L302.1,151.5 L302.3,150.0 L302.5,148.5 L302.7,147.1 L303.0,145.6 L303.2,144.1 L303.5,142.6 L303.7,141.1 L304.0,139.7 L304.3,138.2 L304.6,136.7 L304.9,135.2 L305.2,133.8 L305.5,132.3 L305.8,130.8 L306.1,129.4 L306.5,127.9 L306.8,126.5 L307.1,125.0 L307.5,123.5 L307.8,122.1 L308.1,120.6 L308.5,119.2 L308.8,117.7 L309.1,116.3 L309.5,114.8 L309.8,113.4 L310.1,111.9 L310.4,110.5 L310.8,109.0 L311.1,107.6 L311.4,106.2 L311.8,104.7 L312.1,103.3 L312.4,101.8 L312.8,100.4 L313.1,98.9 L313.5,97.5 L313.9,96.0 L314.2,94.5 L314.6,93.1 L315.0,91.6 L315.4,90.1 L315.8,88.7 L316.2,87.2 L316.6,85.7 L317.1,84.2 L317.5,82.7 L318.0,81.2 L318.6,79.8 L319.1,78.4 L319.7,77.0 L320.4,75.6 L321.2,74.4 L322.0,73.2 L323.0,72.1 L324.0,71.0 L325.1,70.1 L326.3,69.4 L327.6,69.0 L328.9,69.0 L330.2,69.3 L331.5,69.9 L332.7,70.7 L333.9,71.8 L335.0,73.1 L336.0,74.4 L337.0,75.7 L338.0,77.0 L338.9,78.3 L339.7,79.6 L340.6,80.8 L341.4,82.0 L342.2,83.3 L342.9,84.5 L343.7,85.7 L344.5,86.8 L345.2,88.0 L346.0,89.2 L346.8,90.4 L347.7,91.6 L348.5,92.9 L349.4,94.1 L350.2,95.4 L351.1,96.6 L352.0,97.9 L352.9,99.2 L353.7,100.4 L354.6,101.7 L355.4,103.0 L356.3,104.4 L357.1,105.7 L357.8,107.0 L358.6,108.3 L359.3,109.7 L359.9,111.0 L360.5,112.4 L361.1,113.8 L361.7,115.1 L362.2,116.5 L362.7,117.9 L363.2,119.3 L363.6,120.7 L364.1,122.1 L364.5,123.5 L364.9,125.0 L365.3,126.4 L365.7,127.8 L366.1,129.2 L366.4,130.7 L366.8,132.1 L367.1,133.6 L367.4,135.0 L367.8,136.5 L368.1,137.9 L368.4,139.4 L368.7,140.9 L368.9,142.3 L369.2,143.8 L369.5,145.3 L369.7,146.8 L370.0,148.3 L370.3,149.7 L370.5,151.2 L370.7,152.7 L371.0,154.2 L371.2,155.7 L371.4,157.2 L371.7,158.7 L371.9,160.2 L372.1,161.6 L372.3,163.1 L372.5,164.6 L372.7,166.1 L373.0,167.6 L373.2,169.1 L373.4,170.6 L373.6,172.1 L373.8,173.6 L374.0,175.1 L374.2,176.6 L374.4,178.1 L374.6,179.5 L374.8,181.0 L375.0,182.5 L375.2,184.0 L375.4,185.5 L375.6,187.0 L375.8,188.5 L376.0,190.0 L376.2,191.5 L376.4,192.9 L376.6,194.4 L376.8,195.9 L377.0,197.4 L377.2,198.9 L377.4,200.4 L377.6,201.9 L377.8,203.4 L378.0,204.8 L378.2,206.3 L378.4,207.8 L378.6,209.3 L378.9,210.8 L379.1,212.3 L379.3,213.8 L379.5,215.2 L379.7,216.7 L379.9,218.2 L380.1,219.7 L380.3,221.2 L380.6,222.7 L380.8,224.1 L381.0,225.6 L381.2,227.1 L381.5,228.6 L381.7,230.1 L381.9,231.6 L382.1,233.0 L382.4,234.5 L382.6,236.0 L382.8,237.5 L383.1,239.0 L383.3,240.4 L383.5,241.9 L383.8,243.4 L384.0,244.9 L384.3,246.4 L384.5,247.8 L384.8,249.3 L385.0,250.8 L385.3,252.3 L385.5,253.7 L385.8,255.2 L386.0,256.7 L386.3,258.2 L386.5,259.6 L386.8,261.1 L387.0,262.6 L387.3,264.1 L387.6,265.5 L387.8,267.0 L388.1,268.5 L388.4,270.0 L388.6,271.4 L388.9,272.9 L389.2,274.4 L389.5,275.9 L389.8,277.3 L390.0,278.8 L390.3,280.3 L390.6,281.7 L390.9,283.2 L391.2,284.7 L391.5,286.1 L391.8,287.6 L392.1,289.1 L392.3,290.5 L392.6,292.0 L392.9,293.5 L393.2,294.9 L393.6,296.4 L393.9,297.9 L394.2,299.3 L394.5,300.8 L394.8,302.3 L395.1,303.7 L395.4,305.2 L395.7,306.7 L396.1,308.1 L396.4,309.6 L396.7,311.0 L397.0,312.5 L397.4,314.0 L397.7,315.4 L398.0,316.9 L398.3,318.4 L398.7,319.8 L399.0,321.3 L399.4,322.7 L399.7,324.2 L400.0,325.7 L400.4,327.1 L400.7,328.6 L401.1,330.0 L401.4,331.5 L401.8,333.0 L402.2,334.4 L402.5,335.9 L402.9,337.4 L403.2,338.8 L403.6,340.3 L404.0,341.7 L404.3,343.2 L404.7,344.7 L405.1,346.1 L405.5,347.6 L405.8,349.0 L406.2,350.5 L406.6,352.0 L407.0,353.4 L407.4,354.9 L407.7,356.4 L408.1,357.8 L408.5,359.3 L408.9,360.7 L409.3,362.2 L409.7,363.7 L410.1,365.1 L410.6,366.6 L411.0,368.0 L411.4,369.5 L411.8,370.9 L412.3,372.3 L412.7,373.8 L413.2,375.2 L413.7,376.6 L414.1,378.0 L414.6,379.4 L415.1,380.8 L415.6,382.2 L416.1,383.6 L416.6,385.0 L417.1,386.3 L417.7,387.7 L418.2,389.0 L418.8,390.4 L419.4,391.7 L420.1,393.0 L420.8,394.3 L421.5,395.6 L422.2,396.9 L423.1,398.1 L423.9,399.4 L424.8,400.6 L425.8,401.9 L426.9,403.1 L428.0,404.2 L429.1,405.3 L430.3,406.3 L431.5,407.2 L432.8,408.0 L434.2,408.6 L435.5,409.1 L436.9,409.4 L438.3,409.6 L439.8,409.7 L441.2,409.7 L442.7,409.7 L444.2,409.7 L445.7,409.6 L447.3,409.5 L448.8,409.4 L450.3,409.2 L451.9,409.1 L453.4,409.0 L454.9,409.0 L456.5,408.9 L458.0,408.9 L459.5,408.9 L461.0,409.0 L462.5,409.1 L464.0,409.3 L465.5,409.5 L466.9,409.7 L468.4,410.0 L469.9,410.3 L471.3,410.6 L472.8,410.9 L474.2,411.2 L475.7,411.5 L477.1,411.9 L478.6,412.2 L480.0,412.5 L481.5,412.8 L483.0,413.1 L484.4,413.3 L485.9,413.5 L487.4,413.7 L488.9,413.9 L490.0,414.0" fill="none" stroke="#fff" stroke-width="1.8" stroke-linejoin="round"/>
</g>
<rect x="195" y="413" width="295" height="2" fill="#4c72b0" fill-opacity="0.07"/>
<rect x="113.4" y="413" width="468.2" height="1.6" fill="#10807a" fill-opacity="0.06"/>
</g>
<g class="tick"><text x="100.50" y="438.0" text-anchor="middle" letter-spacing="-0.33">2000</text><text x="161.50" y="438.0" text-anchor="middle" letter-spacing="-0.33">2100</text><text x="222.50" y="438.0" text-anchor="middle" letter-spacing="-0.33">2200</text><text x="284.50" y="438.0" text-anchor="middle" letter-spacing="-0.33">2300</text><text x="345.50" y="438.0" text-anchor="middle" letter-spacing="-0.33">2400</text><text x="406.50" y="438.0" text-anchor="middle" letter-spacing="-0.33">2500</text><text x="468.50" y="438.0" text-anchor="middle" letter-spacing="-0.33">2600</text><text x="529.50" y="438.0" text-anchor="middle" letter-spacing="-0.33">2700</text><text x="590.50" y="438.0" text-anchor="middle" letter-spacing="-0.33">2800</text><text x="76.5" y="420.10" text-anchor="end" letter-spacing="-0.12">0.000</text><text x="76.5" y="362.40" text-anchor="end" letter-spacing="-0.12">0.001</text><text x="76.5" y="304.40" text-anchor="end" letter-spacing="-0.12">0.002</text><text x="76.5" y="246.40" text-anchor="end" letter-spacing="-0.12">0.003</text><text x="76.5" y="189.40" text-anchor="end" letter-spacing="-0.12">0.004</text><text x="76.5" y="131.40" text-anchor="end" letter-spacing="-0.12">0.005</text><text x="76.5" y="73.40" text-anchor="end" letter-spacing="-0.12">0.006</text></g>
<text class="lab" x="347.4" y="458.8" text-anchor="middle">Simulated Performances</text>
<text class="lab" transform="translate(30.1,235.9) rotate(-90)" text-anchor="middle">Density</text>
<rect x="87.5" y="24.6" width="30.75" height="10.6" fill="#87a3c8"/>
<text class="leg" x="129.85" y="35.3">Bulls Simulated Performances</text>
<rect x="366.5" y="24.4" width="29.9" height="10.8" fill="#7d9898" stroke="#5faaa5" stroke-width="1.3"/>
<text class="leg" x="407.9" y="35.3">Pau Simulated Performances</text>
</svg>
</body></html>
